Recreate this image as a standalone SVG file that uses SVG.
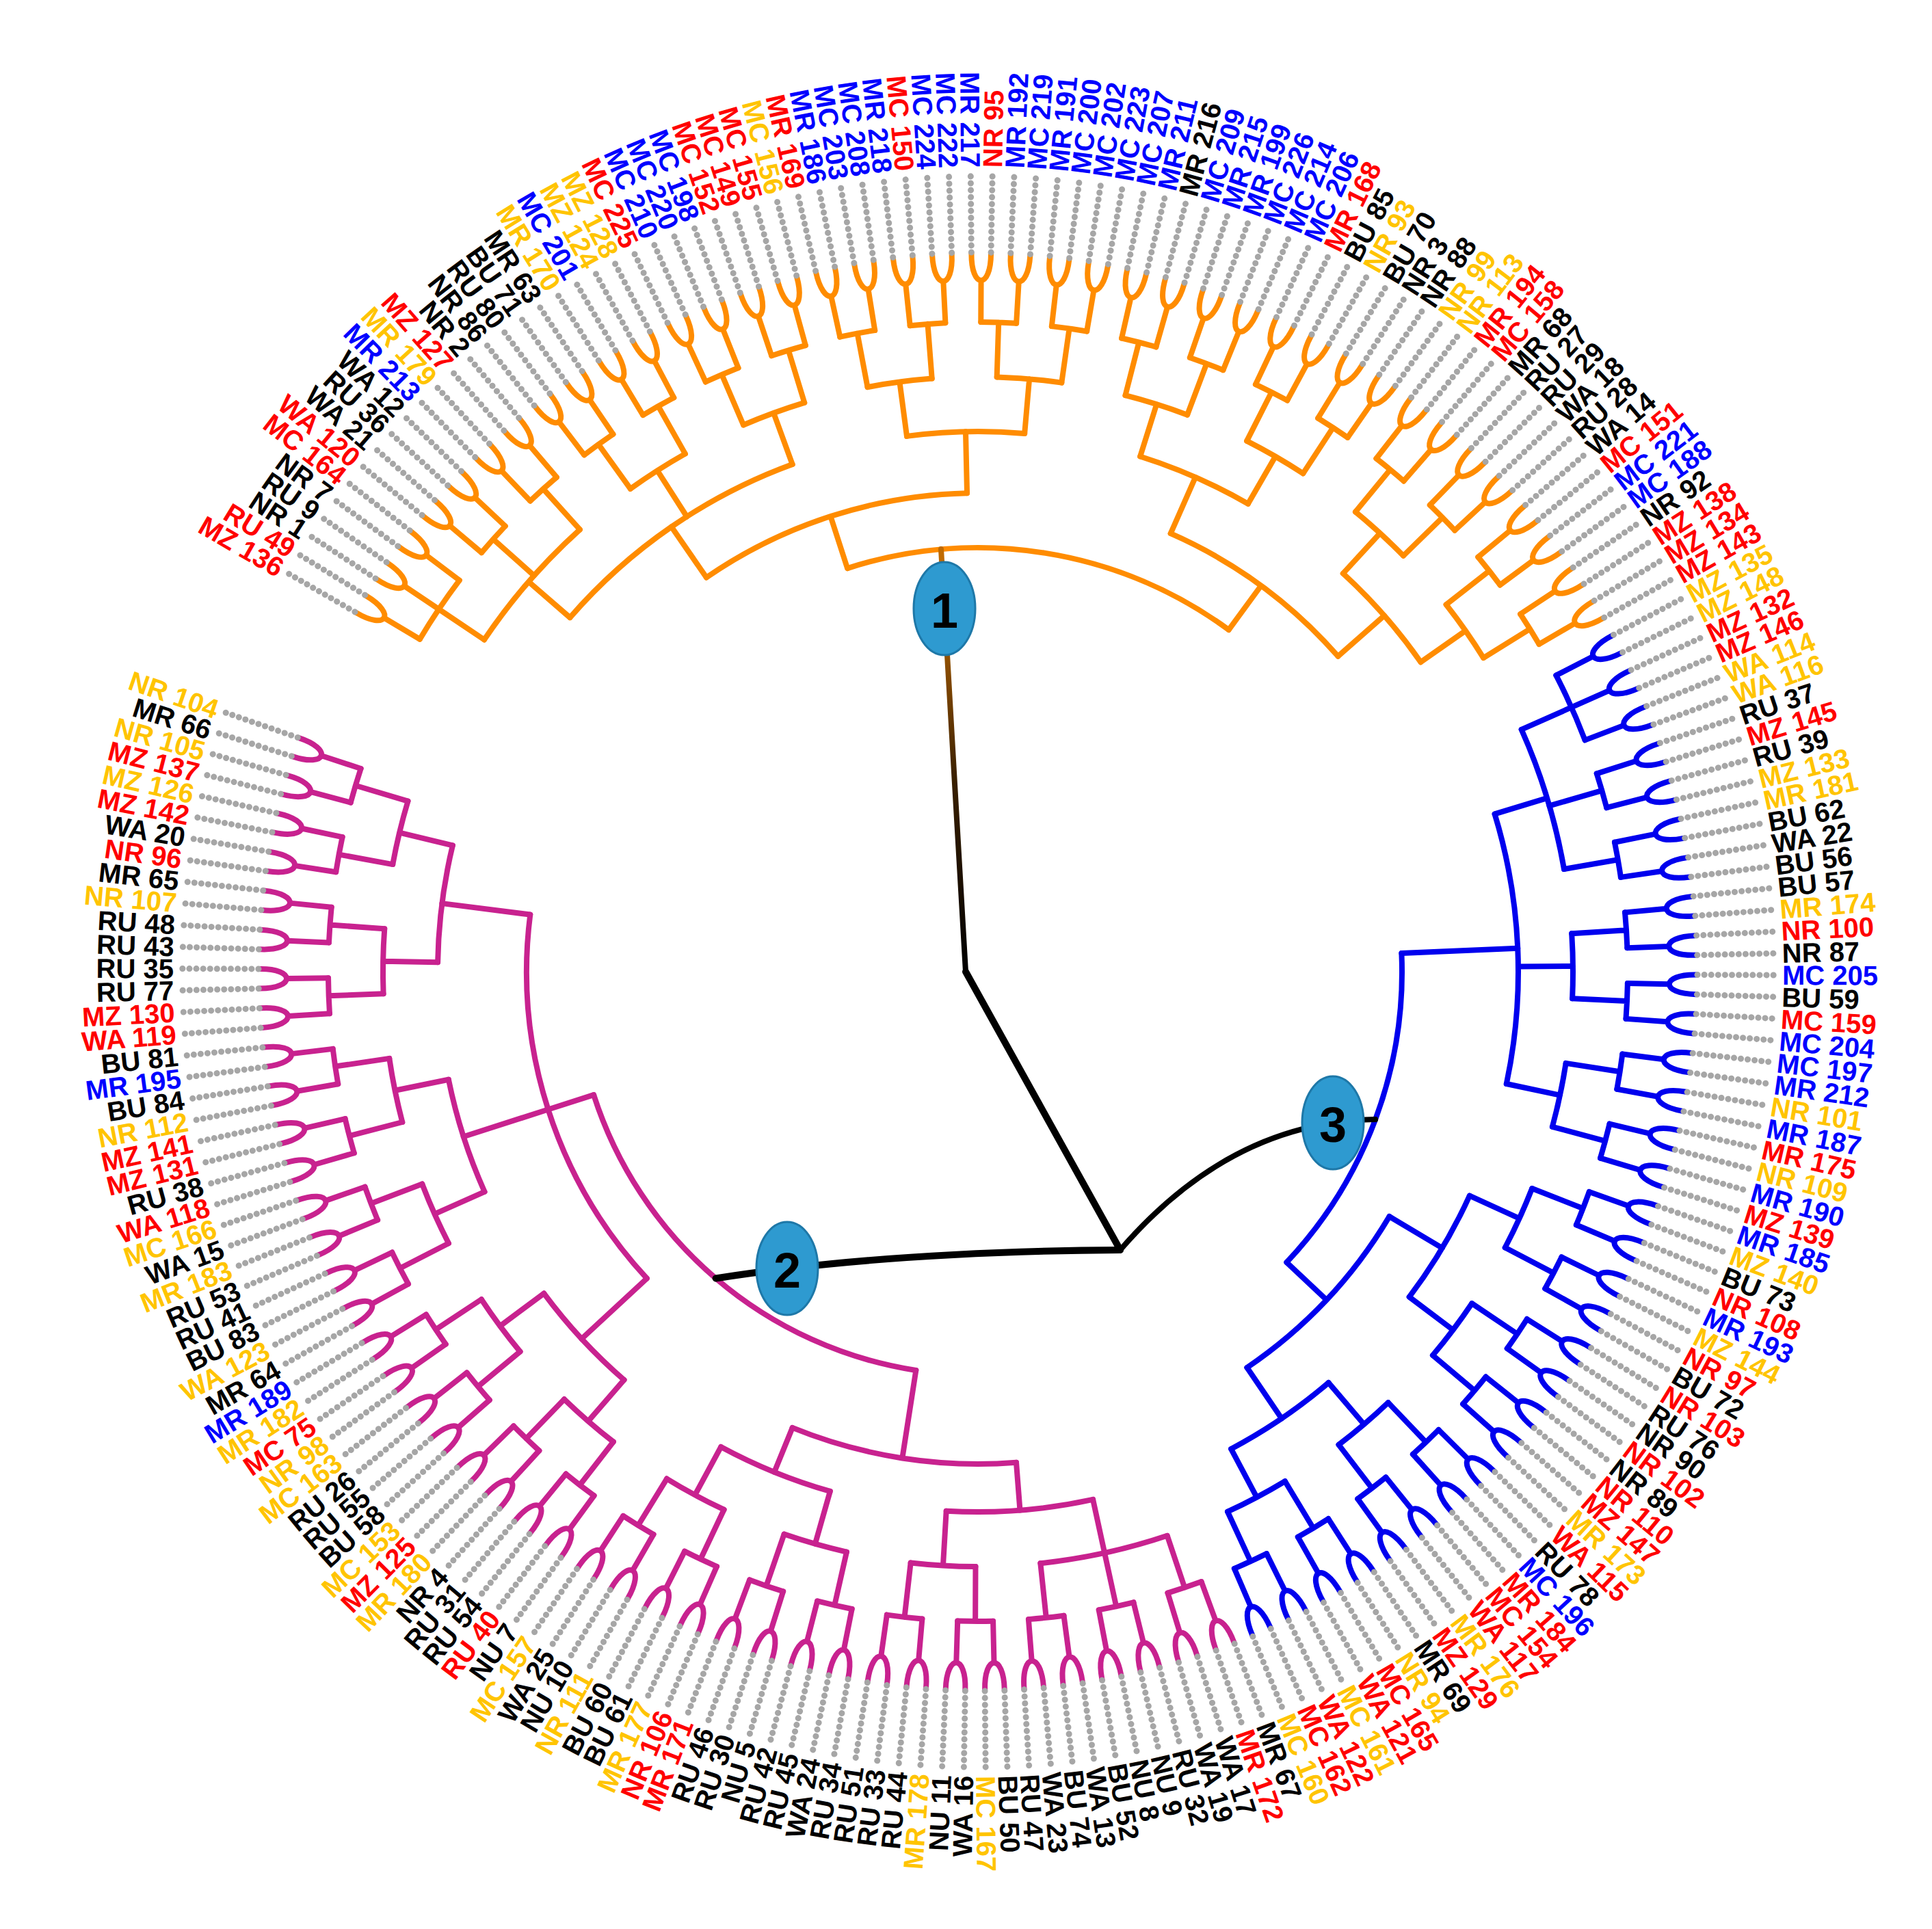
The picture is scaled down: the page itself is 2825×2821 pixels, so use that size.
<svg xmlns="http://www.w3.org/2000/svg" xmlns:xlink="http://www.w3.org/1999/xlink" width="2825" height="2821" viewBox="0 0 2825 2821">
<style>
text{font-family:"Liberation Sans",Arial,sans-serif;font-size:40px;font-weight:bold;dominant-baseline:central}
.l{text-anchor:end}
.y{fill:#FFC400}.r{fill:#FF0000}.b{fill:#0000FF}.k{fill:#000}
.sp{stroke:#a6a6a6;stroke-width:9;stroke-dasharray:0.1 10;stroke-linecap:round}
.br{fill:none;stroke-width:8;stroke-linecap:round}
.o{stroke:#FF8C00}.p{stroke:#C8228F}.u{stroke:#0000EE}
.blk{fill:none;stroke:#000;stroke-width:10;stroke-linecap:round}
.nd{fill:#2E9AD0;stroke:#1E78A8;stroke-width:3}
.nt{font-size:72px;font-weight:bold;text-anchor:middle;fill:#000}
</style>
<defs>
<line id="sp" class="sp" x1="2482" y1="1421" x2="2594" y2="1421"/>
<path id="ch" d="M2480,1406.7 C2428,1406.7 2428,1435.3 2480,1435.3 M2441,1421 L2380,1421"/>
<path id="qd" d="M2379.65,1395.05 A950,950 0 0 1 2379.65,1446.95 M2380,1421 L2300,1421"/>
<path id="qt" d="M2378.58,1369.13 A950,950 0 0 1 2378.58,1472.87 M2380,1421 L2300,1421"/>
<path id="pd" d="M2298.7,1373.5 A870,870 0 0 1 2298.7,1468.5 M2300,1421 L2220,1421"/>
<path id="pt" d="M2294.81,1326.14 A870,870 0 0 1 2294.81,1515.86 M2300,1421 L2220,1421"/>
<path id="pt2" d="M2293.44,1314.33 A870,870 0 0 1 2293.44,1527.67 M2300,1421 L2220,1421"/>
<path id="gd" d="M2215.29,1334.86 A790,790 0 0 1 2215.29,1507.14"/>
<path id="g5" d="M2212.65,1313.45 A790,790 0 0 1 2212.65,1528.55"/>
<path id="g3" d="M2194.92,1223.52 A790,790 0 0 1 2194.92,1618.48"/>
<line id="s1" x1="2090" y1="1421" x2="2220" y2="1421"/>
<line id="s2" x1="2150" y1="1421" x2="2220" y2="1421"/>
<line id="s3" x1="2130" y1="1421" x2="2220" y2="1421"/>
<line id="s4" x1="2050" y1="1421" x2="2220" y2="1421"/>
<path id="h1" d="M2027.99,1141.69 A660,660 0 0 1 2027.99,1700.31 M2020,1421 L2090,1421"/>
<path id="h2" d="M2130.68,1255.33 A720,720 0 0 1 2130.68,1586.67 M2020,1421 L2150,1421"/>
<path id="pr" d="M1932.03,1111.05 A590,590 0 0 1 1932.03,1730.95"/>
<path id="bh" d="M2113.35,1269.27 A700,700 0 0 1 2113.35,1572.73 M2050,1421 L2130,1421"/>
<path id="bro" d="M2001.21,1179.91 A620,620 0 0 1 2001.21,1662.09"/>
<path id="oh2" d="M2100.73,1220.71 A700,700 0 0 1 2100.73,1621.29 M2050,1421 L2130,1421"/>
<path id="oro" d="M1981.97,1138.63 A620,620 0 0 1 1981.97,1703.37"/>
<linearGradient id="gr" gradientUnits="userSpaceOnUse" x1="0" y1="1421" x2="0" y2="860"><stop offset="0" stop-color="#000"/><stop offset="0.5" stop-color="#3a2000"/><stop offset="1" stop-color="#C06A00"/></linearGradient>
</defs>
<rect width="2825" height="2821" fill="#fff"/>
<g id="connectors">
<g id="pink" class="br p">
<use href="#ch" transform="rotate(-161.7825 1430 1421)"/><use href="#ch" transform="rotate(-164.9125 1430 1421)"/><use href="#ch" transform="rotate(-168.0425 1430 1421)"/><use href="#ch" transform="rotate(-171.1725 1430 1421)"/><use href="#ch" transform="rotate(-174.3025 1430 1421)"/><use href="#ch" transform="rotate(-177.4325 1430 1421)"/><use href="#ch" transform="rotate(-180.5625 1430 1421)"/><use href="#ch" transform="rotate(-183.6925 1430 1421)"/><use href="#ch" transform="rotate(-186.8225 1430 1421)"/><use href="#ch" transform="rotate(-189.9525 1430 1421)"/><use href="#ch" transform="rotate(-193.0825 1430 1421)"/><use href="#ch" transform="rotate(-196.2125 1430 1421)"/><use href="#ch" transform="rotate(-199.3425 1430 1421)"/><use href="#ch" transform="rotate(-202.4725 1430 1421)"/><use href="#ch" transform="rotate(-205.6025 1430 1421)"/><use href="#ch" transform="rotate(-208.7325 1430 1421)"/><use href="#ch" transform="rotate(-211.8625 1430 1421)"/><use href="#ch" transform="rotate(-214.9925 1430 1421)"/><use href="#ch" transform="rotate(-218.1225 1430 1421)"/><use href="#ch" transform="rotate(-221.2525 1430 1421)"/><use href="#ch" transform="rotate(-224.3825 1430 1421)"/><use href="#ch" transform="rotate(-227.5125 1430 1421)"/><use href="#ch" transform="rotate(-230.6425 1430 1421)"/><use href="#ch" transform="rotate(-233.7725 1430 1421)"/><use href="#ch" transform="rotate(-236.9025 1430 1421)"/><use href="#ch" transform="rotate(-240.0325 1430 1421)"/><use href="#ch" transform="rotate(-243.1625 1430 1421)"/><use href="#ch" transform="rotate(-246.2925 1430 1421)"/><use href="#ch" transform="rotate(-249.4225 1430 1421)"/><use href="#ch" transform="rotate(-252.5525 1430 1421)"/><use href="#ch" transform="rotate(-255.6825 1430 1421)"/><use href="#ch" transform="rotate(-258.8125 1430 1421)"/><use href="#ch" transform="rotate(-261.9425 1430 1421)"/><use href="#ch" transform="rotate(-265.0725 1430 1421)"/><use href="#ch" transform="rotate(-268.2025 1430 1421)"/><use href="#ch" transform="rotate(-271.3325 1430 1421)"/><use href="#ch" transform="rotate(-274.4625 1430 1421)"/><use href="#ch" transform="rotate(-277.5925 1430 1421)"/><use href="#ch" transform="rotate(-280.7225 1430 1421)"/><use href="#ch" transform="rotate(-283.8525 1430 1421)"/><use href="#ch" transform="rotate(-286.9825 1430 1421)"/><use href="#ch" transform="rotate(-290.1125 1430 1421)"/>
<use href="#qd" transform="rotate(-163.3475 1430 1421)"/><use href="#qd" transform="rotate(-169.6075 1430 1421)"/><use href="#qd" transform="rotate(-175.8675 1430 1421)"/><use href="#qd" transform="rotate(-182.1275 1430 1421)"/><use href="#qd" transform="rotate(-188.3875 1430 1421)"/><use href="#qd" transform="rotate(-194.6475 1430 1421)"/><use href="#qd" transform="rotate(-200.9075 1430 1421)"/><use href="#qd" transform="rotate(-207.1675 1430 1421)"/><use href="#qd" transform="rotate(-213.4275 1430 1421)"/><use href="#qd" transform="rotate(-219.6875 1430 1421)"/><use href="#qd" transform="rotate(-225.9475 1430 1421)"/><use href="#qd" transform="rotate(-232.2075 1430 1421)"/><use href="#qd" transform="rotate(-238.4675 1430 1421)"/><use href="#qd" transform="rotate(-244.7275 1430 1421)"/><use href="#qd" transform="rotate(-250.9875 1430 1421)"/><use href="#qd" transform="rotate(-257.2475 1430 1421)"/><use href="#qd" transform="rotate(-263.5075 1430 1421)"/><use href="#qd" transform="rotate(-269.7675 1430 1421)"/><use href="#qd" transform="rotate(-276.0275 1430 1421)"/><use href="#qd" transform="rotate(-282.2875 1430 1421)"/><use href="#qd" transform="rotate(-288.5475 1430 1421)"/>
<use href="#pd" transform="rotate(-166.4775 1430 1421)"/><use href="#pd" transform="rotate(-178.9975 1430 1421)"/><use href="#pd" transform="rotate(-191.5175 1430 1421)"/><use href="#pd" transform="rotate(-204.0375 1430 1421)"/><use href="#pd" transform="rotate(-216.5575 1430 1421)"/><use href="#pd" transform="rotate(-229.0775 1430 1421)"/><use href="#pd" transform="rotate(-241.5975 1430 1421)"/><use href="#pd" transform="rotate(-254.1175 1430 1421)"/><use href="#pd" transform="rotate(-266.6375 1430 1421)"/><use href="#pt" transform="rotate(-282.2875 1430 1421)"/>
<use href="#gd" transform="rotate(-172.7375 1430 1421)"/><use href="#gd" transform="rotate(-197.7775 1430 1421)"/><use href="#gd" transform="rotate(-222.8175 1430 1421)"/><use href="#gd" transform="rotate(-247.8575 1430 1421)"/><use href="#g5" transform="rotate(-274.4625 1430 1421)"/>
<use href="#s1" transform="rotate(-172.7375 1430 1421)"/><use href="#s1" transform="rotate(-197.7775 1430 1421)"/><use href="#s1" transform="rotate(-222.8175 1430 1421)"/><use href="#s2" transform="rotate(-247.8575 1430 1421)"/><use href="#s2" transform="rotate(-274.4625 1430 1421)"/>
<use href="#h1" transform="rotate(-197.7775 1430 1421)"/><use href="#h2" transform="rotate(-261.16 1430 1421)"/><use href="#pr" transform="rotate(-229.47 1430 1421)"/>
</g>
<g id="blue" class="br u">
<use href="#ch" transform="rotate(-293.2425 1430 1421)"/><use href="#ch" transform="rotate(-296.3725 1430 1421)"/><use href="#ch" transform="rotate(-299.5025 1430 1421)"/><use href="#ch" transform="rotate(-302.6325 1430 1421)"/><use href="#ch" transform="rotate(-305.7625 1430 1421)"/><use href="#ch" transform="rotate(-308.8925 1430 1421)"/><use href="#ch" transform="rotate(-312.0225 1430 1421)"/><use href="#ch" transform="rotate(-315.1525 1430 1421)"/><use href="#ch" transform="rotate(-318.2825 1430 1421)"/><use href="#ch" transform="rotate(-321.4125 1430 1421)"/><use href="#ch" transform="rotate(-324.5425 1430 1421)"/><use href="#ch" transform="rotate(-327.6725 1430 1421)"/><use href="#ch" transform="rotate(-330.8025 1430 1421)"/><use href="#ch" transform="rotate(-333.9325 1430 1421)"/><use href="#ch" transform="rotate(-337.0625 1430 1421)"/><use href="#ch" transform="rotate(-340.1925 1430 1421)"/><use href="#ch" transform="rotate(-343.3225 1430 1421)"/><use href="#ch" transform="rotate(-346.4525 1430 1421)"/><use href="#ch" transform="rotate(-349.5825 1430 1421)"/><use href="#ch" transform="rotate(-352.7125 1430 1421)"/><use href="#ch" transform="rotate(-355.8425 1430 1421)"/><use href="#ch" transform="rotate(-358.9725 1430 1421)"/><use href="#ch" transform="rotate(-362.1025 1430 1421)"/><use href="#ch" transform="rotate(-365.2325 1430 1421)"/><use href="#ch" transform="rotate(-368.3625 1430 1421)"/><use href="#ch" transform="rotate(-371.4925 1430 1421)"/><use href="#ch" transform="rotate(-374.6225 1430 1421)"/><use href="#ch" transform="rotate(-377.7525 1430 1421)"/><use href="#ch" transform="rotate(-380.8825 1430 1421)"/><use href="#ch" transform="rotate(-384.0125 1430 1421)"/><use href="#ch" transform="rotate(-387.1425 1430 1421)"/>
<use href="#qd" transform="rotate(-294.8075 1430 1421)"/><use href="#qd" transform="rotate(-301.0675 1430 1421)"/><use href="#qd" transform="rotate(-307.3275 1430 1421)"/><use href="#qd" transform="rotate(-313.5875 1430 1421)"/><use href="#qd" transform="rotate(-319.8475 1430 1421)"/><use href="#qd" transform="rotate(-326.1075 1430 1421)"/><use href="#qd" transform="rotate(-332.3675 1430 1421)"/><use href="#qd" transform="rotate(-338.6275 1430 1421)"/><use href="#qd" transform="rotate(-344.8875 1430 1421)"/><use href="#qd" transform="rotate(-351.1475 1430 1421)"/><use href="#qd" transform="rotate(-357.4075 1430 1421)"/><use href="#qd" transform="rotate(-363.6675 1430 1421)"/><use href="#qd" transform="rotate(-369.9275 1430 1421)"/><use href="#qd" transform="rotate(-376.1875 1430 1421)"/><use href="#qt" transform="rotate(-384.0125 1430 1421)"/>
<use href="#pd" transform="rotate(-297.9375 1430 1421)"/><use href="#pd" transform="rotate(-310.4575 1430 1421)"/><use href="#pd" transform="rotate(-322.9775 1430 1421)"/><use href="#pd" transform="rotate(-335.4975 1430 1421)"/><use href="#pd" transform="rotate(-348.0175 1430 1421)"/><use href="#pd" transform="rotate(-360.5375 1430 1421)"/><use href="#pt2" transform="rotate(-376.97 1430 1421)"/>
<use href="#gd" transform="rotate(-304.1975 1430 1421)"/><use href="#gd" transform="rotate(-329.2375 1430 1421)"/><use href="#g3" transform="rotate(-362.49 1430 1421)"/>
<use href="#s3" transform="rotate(-304.1975 1430 1421)"/><use href="#s3" transform="rotate(-329.2375 1430 1421)"/><use href="#s4" transform="rotate(-362.49 1430 1421)"/>
<use href="#bh" transform="rotate(-316.7175 1430 1421)"/><use href="#bro" transform="rotate(-339.60375 1430 1421)"/>
</g>
<g id="orange" class="br o">
<use href="#ch" transform="rotate(-390.2725 1430 1421)"/><use href="#ch" transform="rotate(-393.4025 1430 1421)"/><use href="#ch" transform="rotate(-396.5325 1430 1421)"/><use href="#ch" transform="rotate(-399.6625 1430 1421)"/><use href="#ch" transform="rotate(-402.7925 1430 1421)"/><use href="#ch" transform="rotate(-405.9225 1430 1421)"/><use href="#ch" transform="rotate(-409.0525 1430 1421)"/><use href="#ch" transform="rotate(-412.1825 1430 1421)"/><use href="#ch" transform="rotate(-415.3125 1430 1421)"/><use href="#ch" transform="rotate(-418.4425 1430 1421)"/><use href="#ch" transform="rotate(-421.5725 1430 1421)"/><use href="#ch" transform="rotate(-424.7025 1430 1421)"/><use href="#ch" transform="rotate(-427.8325 1430 1421)"/><use href="#ch" transform="rotate(-430.9625 1430 1421)"/><use href="#ch" transform="rotate(-434.0925 1430 1421)"/><use href="#ch" transform="rotate(-437.2225 1430 1421)"/><use href="#ch" transform="rotate(-440.3525 1430 1421)"/><use href="#ch" transform="rotate(-443.4825 1430 1421)"/><use href="#ch" transform="rotate(-446.6125 1430 1421)"/><use href="#ch" transform="rotate(-449.7425 1430 1421)"/><use href="#ch" transform="rotate(-452.8725 1430 1421)"/><use href="#ch" transform="rotate(-456.0025 1430 1421)"/><use href="#ch" transform="rotate(-459.1325 1430 1421)"/><use href="#ch" transform="rotate(-462.2625 1430 1421)"/><use href="#ch" transform="rotate(-465.3925 1430 1421)"/><use href="#ch" transform="rotate(-468.5225 1430 1421)"/><use href="#ch" transform="rotate(-471.6525 1430 1421)"/><use href="#ch" transform="rotate(-474.7825 1430 1421)"/><use href="#ch" transform="rotate(-477.9125 1430 1421)"/><use href="#ch" transform="rotate(-481.0425 1430 1421)"/><use href="#ch" transform="rotate(-484.1725 1430 1421)"/><use href="#ch" transform="rotate(-487.3025 1430 1421)"/><use href="#ch" transform="rotate(-490.4325 1430 1421)"/><use href="#ch" transform="rotate(-493.5625 1430 1421)"/><use href="#ch" transform="rotate(-496.6925 1430 1421)"/><use href="#ch" transform="rotate(-499.8225 1430 1421)"/><use href="#ch" transform="rotate(-502.9525 1430 1421)"/><use href="#ch" transform="rotate(-506.0825 1430 1421)"/><use href="#ch" transform="rotate(-509.2125 1430 1421)"/>
<use href="#qd" transform="rotate(-391.8375 1430 1421)"/><use href="#qd" transform="rotate(-398.0975 1430 1421)"/><use href="#qd" transform="rotate(-404.3575 1430 1421)"/><use href="#qd" transform="rotate(-410.6175 1430 1421)"/><use href="#qd" transform="rotate(-416.8775 1430 1421)"/><use href="#qd" transform="rotate(-423.1375 1430 1421)"/><use href="#qd" transform="rotate(-429.3975 1430 1421)"/><use href="#qd" transform="rotate(-435.6575 1430 1421)"/><use href="#qd" transform="rotate(-441.9175 1430 1421)"/><use href="#qd" transform="rotate(-448.1775 1430 1421)"/><use href="#qd" transform="rotate(-454.4375 1430 1421)"/><use href="#qd" transform="rotate(-460.6975 1430 1421)"/><use href="#qd" transform="rotate(-466.9575 1430 1421)"/><use href="#qd" transform="rotate(-473.2175 1430 1421)"/><use href="#qd" transform="rotate(-479.4775 1430 1421)"/><use href="#qd" transform="rotate(-485.7375 1430 1421)"/><use href="#qd" transform="rotate(-491.9975 1430 1421)"/><use href="#qd" transform="rotate(-498.2575 1430 1421)"/><use href="#qt" transform="rotate(-506.0825 1430 1421)"/>
<use href="#pd" transform="rotate(-394.9675 1430 1421)"/><use href="#pd" transform="rotate(-407.4875 1430 1421)"/><use href="#pd" transform="rotate(-420.0075 1430 1421)"/><use href="#pd" transform="rotate(-432.5275 1430 1421)"/><use href="#pd" transform="rotate(-445.0475 1430 1421)"/><use href="#pd" transform="rotate(-457.5675 1430 1421)"/><use href="#pd" transform="rotate(-470.0875 1430 1421)"/><use href="#pd" transform="rotate(-482.6075 1430 1421)"/><use href="#pt2" transform="rotate(-499.04 1430 1421)"/>
<use href="#gd" transform="rotate(-401.2275 1430 1421)"/><use href="#gd" transform="rotate(-426.2675 1430 1421)"/><use href="#gd" transform="rotate(-451.3075 1430 1421)"/><use href="#g3" transform="rotate(-484.56 1430 1421)"/>
<use href="#s3" transform="rotate(-401.2275 1430 1421)"/><use href="#s3" transform="rotate(-426.2675 1430 1421)"/><use href="#s3" transform="rotate(-451.3075 1430 1421)"/><use href="#s3" transform="rotate(-484.56 1430 1421)"/>
<use href="#bh" transform="rotate(-413.7475 1430 1421)"/><use href="#oh2" transform="rotate(-467.93375 1430 1421)"/><use href="#oro" transform="rotate(-440.8406 1430 1421)"/>
</g>
<g id="trunk">
<path class="blk" d="M1638,1828 L1412,1421"/>
<path d="M1412,1421 L1376,803" fill="none" stroke="url(#gr)" stroke-width="8" stroke-linecap="round"/>
<path class="blk" d="M1638,1828 Q1300,1830 1046.6,1869.5"/>
<path class="blk" d="M1638,1828 Q1800,1640 2011.1,1637.1" style="stroke-width:8"/>
</g>
</g>
<g id="node1"><ellipse class="nd" cx="1381" cy="890" rx="45" ry="68"/><text class="nt" x="1381" y="893">1</text></g>
<g id="node2"><ellipse class="nd" cx="1151" cy="1855" rx="45" ry="68"/><text class="nt" x="1151" y="1858">2</text></g>
<g id="node3"><ellipse class="nd" cx="1949" cy="1642" rx="45" ry="68"/><text class="nt" x="1949" y="1645">3</text></g>
<g id="leaves">
<g id="L1" transform="rotate(-161 1430 1421)"><use href="#sp"/><text class="y l" x="2606" y="1421" transform="rotate(180 2606 1421)">NR 104</text></g>
<g id="L2" transform="rotate(-162.565 1430 1421)"><use href="#sp"/><text class="k l" x="2606" y="1421" transform="rotate(180 2606 1421)">MR 66</text></g>
<g id="L3" transform="rotate(-164.13 1430 1421)"><use href="#sp"/><text class="y l" x="2606" y="1421" transform="rotate(180 2606 1421)">NR 105</text></g>
<g id="L4" transform="rotate(-165.695 1430 1421)"><use href="#sp"/><text class="r l" x="2606" y="1421" transform="rotate(180 2606 1421)">MZ 137</text></g>
<g id="L5" transform="rotate(-167.26 1430 1421)"><use href="#sp"/><text class="y l" x="2606" y="1421" transform="rotate(180 2606 1421)">MZ 126</text></g>
<g id="L6" transform="rotate(-168.825 1430 1421)"><use href="#sp"/><text class="r l" x="2606" y="1421" transform="rotate(180 2606 1421)">MZ 142</text></g>
<g id="L7" transform="rotate(-170.39 1430 1421)"><use href="#sp"/><text class="k l" x="2606" y="1421" transform="rotate(180 2606 1421)">WA 20</text></g>
<g id="L8" transform="rotate(-171.955 1430 1421)"><use href="#sp"/><text class="r l" x="2606" y="1421" transform="rotate(180 2606 1421)">NR 96</text></g>
<g id="L9" transform="rotate(-173.52 1430 1421)"><use href="#sp"/><text class="k l" x="2606" y="1421" transform="rotate(180 2606 1421)">MR 65</text></g>
<g id="L10" transform="rotate(-175.085 1430 1421)"><use href="#sp"/><text class="y l" x="2606" y="1421" transform="rotate(180 2606 1421)">NR 107</text></g>
<g id="L11" transform="rotate(-176.65 1430 1421)"><use href="#sp"/><text class="k l" x="2606" y="1421" transform="rotate(180 2606 1421)">RU 48</text></g>
<g id="L12" transform="rotate(-178.215 1430 1421)"><use href="#sp"/><text class="k l" x="2606" y="1421" transform="rotate(180 2606 1421)">RU 43</text></g>
<g id="L13" transform="rotate(-179.78 1430 1421)"><use href="#sp"/><text class="k l" x="2606" y="1421" transform="rotate(180 2606 1421)">RU 35</text></g>
<g id="L14" transform="rotate(-181.345 1430 1421)"><use href="#sp"/><text class="k l" x="2606" y="1421" transform="rotate(180 2606 1421)">RU 77</text></g>
<g id="L15" transform="rotate(-182.91 1430 1421)"><use href="#sp"/><text class="r l" x="2606" y="1421" transform="rotate(180 2606 1421)">MZ 130</text></g>
<g id="L16" transform="rotate(-184.475 1430 1421)"><use href="#sp"/><text class="r l" x="2606" y="1421" transform="rotate(180 2606 1421)">WA 119</text></g>
<g id="L17" transform="rotate(-186.04 1430 1421)"><use href="#sp"/><text class="k l" x="2606" y="1421" transform="rotate(180 2606 1421)">BU 81</text></g>
<g id="L18" transform="rotate(-187.605 1430 1421)"><use href="#sp"/><text class="b l" x="2606" y="1421" transform="rotate(180 2606 1421)">MR 195</text></g>
<g id="L19" transform="rotate(-189.17 1430 1421)"><use href="#sp"/><text class="k l" x="2606" y="1421" transform="rotate(180 2606 1421)">BU 84</text></g>
<g id="L20" transform="rotate(-190.735 1430 1421)"><use href="#sp"/><text class="y l" x="2606" y="1421" transform="rotate(180 2606 1421)">NR 112</text></g>
<g id="L21" transform="rotate(-192.3 1430 1421)"><use href="#sp"/><text class="r l" x="2606" y="1421" transform="rotate(180 2606 1421)">MZ 141</text></g>
<g id="L22" transform="rotate(-193.865 1430 1421)"><use href="#sp"/><text class="r l" x="2606" y="1421" transform="rotate(180 2606 1421)">MZ 131</text></g>
<g id="L23" transform="rotate(-195.43 1430 1421)"><use href="#sp"/><text class="k l" x="2606" y="1421" transform="rotate(180 2606 1421)">RU 38</text></g>
<g id="L24" transform="rotate(-196.995 1430 1421)"><use href="#sp"/><text class="r l" x="2606" y="1421" transform="rotate(180 2606 1421)">WA 118</text></g>
<g id="L25" transform="rotate(-198.56 1430 1421)"><use href="#sp"/><text class="y l" x="2606" y="1421" transform="rotate(180 2606 1421)">MC 166</text></g>
<g id="L26" transform="rotate(-200.125 1430 1421)"><use href="#sp"/><text class="k l" x="2606" y="1421" transform="rotate(180 2606 1421)">WA 15</text></g>
<g id="L27" transform="rotate(-201.69 1430 1421)"><use href="#sp"/><text class="y l" x="2606" y="1421" transform="rotate(180 2606 1421)">MR 183</text></g>
<g id="L28" transform="rotate(-203.255 1430 1421)"><use href="#sp"/><text class="k l" x="2606" y="1421" transform="rotate(180 2606 1421)">RU 53</text></g>
<g id="L29" transform="rotate(-204.82 1430 1421)"><use href="#sp"/><text class="k l" x="2606" y="1421" transform="rotate(180 2606 1421)">RU 41</text></g>
<g id="L30" transform="rotate(-206.385 1430 1421)"><use href="#sp"/><text class="k l" x="2606" y="1421" transform="rotate(180 2606 1421)">BU 83</text></g>
<g id="L31" transform="rotate(-207.95 1430 1421)"><use href="#sp"/><text class="y l" x="2606" y="1421" transform="rotate(180 2606 1421)">WA 123</text></g>
<g id="L32" transform="rotate(-209.515 1430 1421)"><use href="#sp"/><text class="k l" x="2606" y="1421" transform="rotate(180 2606 1421)">MR 64</text></g>
<g id="L33" transform="rotate(-211.08 1430 1421)"><use href="#sp"/><text class="b l" x="2606" y="1421" transform="rotate(180 2606 1421)">MR 189</text></g>
<g id="L34" transform="rotate(-212.645 1430 1421)"><use href="#sp"/><text class="y l" x="2606" y="1421" transform="rotate(180 2606 1421)">MR 182</text></g>
<g id="L35" transform="rotate(-214.21 1430 1421)"><use href="#sp"/><text class="r l" x="2606" y="1421" transform="rotate(180 2606 1421)">MC 75</text></g>
<g id="L36" transform="rotate(-215.775 1430 1421)"><use href="#sp"/><text class="y l" x="2606" y="1421" transform="rotate(180 2606 1421)">NR 98</text></g>
<g id="L37" transform="rotate(-217.34 1430 1421)"><use href="#sp"/><text class="y l" x="2606" y="1421" transform="rotate(180 2606 1421)">MC 163</text></g>
<g id="L38" transform="rotate(-218.905 1430 1421)"><use href="#sp"/><text class="k l" x="2606" y="1421" transform="rotate(180 2606 1421)">RU 26</text></g>
<g id="L39" transform="rotate(-220.47 1430 1421)"><use href="#sp"/><text class="k l" x="2606" y="1421" transform="rotate(180 2606 1421)">RU 55</text></g>
<g id="L40" transform="rotate(-222.035 1430 1421)"><use href="#sp"/><text class="k l" x="2606" y="1421" transform="rotate(180 2606 1421)">BU 58</text></g>
<g id="L41" transform="rotate(-223.6 1430 1421)"><use href="#sp"/><text class="y l" x="2606" y="1421" transform="rotate(180 2606 1421)">MC 153</text></g>
<g id="L42" transform="rotate(-225.165 1430 1421)"><use href="#sp"/><text class="r l" x="2606" y="1421" transform="rotate(180 2606 1421)">MZ 125</text></g>
<g id="L43" transform="rotate(-226.73 1430 1421)"><use href="#sp"/><text class="y l" x="2606" y="1421" transform="rotate(180 2606 1421)">MR 180</text></g>
<g id="L44" transform="rotate(-228.295 1430 1421)"><use href="#sp"/><text class="k l" x="2606" y="1421" transform="rotate(180 2606 1421)">NR 4</text></g>
<g id="L45" transform="rotate(-229.86 1430 1421)"><use href="#sp"/><text class="k l" x="2606" y="1421" transform="rotate(180 2606 1421)">RU 31</text></g>
<g id="L46" transform="rotate(-231.425 1430 1421)"><use href="#sp"/><text class="k l" x="2606" y="1421" transform="rotate(180 2606 1421)">RU 54</text></g>
<g id="L47" transform="rotate(-232.99 1430 1421)"><use href="#sp"/><text class="r l" x="2606" y="1421" transform="rotate(180 2606 1421)">RU 40</text></g>
<g id="L48" transform="rotate(-234.555 1430 1421)"><use href="#sp"/><text class="k l" x="2606" y="1421" transform="rotate(180 2606 1421)">NU 7</text></g>
<g id="L49" transform="rotate(-236.12 1430 1421)"><use href="#sp"/><text class="y l" x="2606" y="1421" transform="rotate(180 2606 1421)">MC 157</text></g>
<g id="L50" transform="rotate(-237.685 1430 1421)"><use href="#sp"/><text class="k l" x="2606" y="1421" transform="rotate(180 2606 1421)">WA 25</text></g>
<g id="L51" transform="rotate(-239.25 1430 1421)"><use href="#sp"/><text class="k l" x="2606" y="1421" transform="rotate(180 2606 1421)">NU 10</text></g>
<g id="L52" transform="rotate(-240.815 1430 1421)"><use href="#sp"/><text class="y l" x="2606" y="1421" transform="rotate(180 2606 1421)">NR 111</text></g>
<g id="L53" transform="rotate(-242.38 1430 1421)"><use href="#sp"/><text class="k l" x="2606" y="1421" transform="rotate(180 2606 1421)">BU 60</text></g>
<g id="L54" transform="rotate(-243.945 1430 1421)"><use href="#sp"/><text class="k l" x="2606" y="1421" transform="rotate(180 2606 1421)">BU 61</text></g>
<g id="L55" transform="rotate(-245.51 1430 1421)"><use href="#sp"/><text class="y l" x="2606" y="1421" transform="rotate(180 2606 1421)">MR 177</text></g>
<g id="L56" transform="rotate(-247.075 1430 1421)"><use href="#sp"/><text class="r l" x="2606" y="1421" transform="rotate(180 2606 1421)">NR 106</text></g>
<g id="L57" transform="rotate(-248.64 1430 1421)"><use href="#sp"/><text class="r l" x="2606" y="1421" transform="rotate(180 2606 1421)">MR 171</text></g>
<g id="L58" transform="rotate(-250.205 1430 1421)"><use href="#sp"/><text class="k l" x="2606" y="1421" transform="rotate(180 2606 1421)">RU 46</text></g>
<g id="L59" transform="rotate(-251.77 1430 1421)"><use href="#sp"/><text class="k l" x="2606" y="1421" transform="rotate(180 2606 1421)">RU 30</text></g>
<g id="L60" transform="rotate(-253.335 1430 1421)"><use href="#sp"/><text class="k l" x="2606" y="1421" transform="rotate(180 2606 1421)">NU 5</text></g>
<g id="L61" transform="rotate(-254.9 1430 1421)"><use href="#sp"/><text class="k l" x="2606" y="1421" transform="rotate(180 2606 1421)">RU 42</text></g>
<g id="L62" transform="rotate(-256.465 1430 1421)"><use href="#sp"/><text class="k l" x="2606" y="1421" transform="rotate(180 2606 1421)">RU 45</text></g>
<g id="L63" transform="rotate(-258.03 1430 1421)"><use href="#sp"/><text class="k l" x="2606" y="1421" transform="rotate(180 2606 1421)">WA 24</text></g>
<g id="L64" transform="rotate(-259.595 1430 1421)"><use href="#sp"/><text class="k l" x="2606" y="1421" transform="rotate(180 2606 1421)">RU 34</text></g>
<g id="L65" transform="rotate(-261.16 1430 1421)"><use href="#sp"/><text class="k l" x="2606" y="1421" transform="rotate(180 2606 1421)">RU 51</text></g>
<g id="L66" transform="rotate(-262.725 1430 1421)"><use href="#sp"/><text class="k l" x="2606" y="1421" transform="rotate(180 2606 1421)">RU 33</text></g>
<g id="L67" transform="rotate(-264.29 1430 1421)"><use href="#sp"/><text class="k l" x="2606" y="1421" transform="rotate(180 2606 1421)">RU 44</text></g>
<g id="L68" transform="rotate(-265.855 1430 1421)"><use href="#sp"/><text class="y l" x="2606" y="1421" transform="rotate(180 2606 1421)">MR 178</text></g>
<g id="L69" transform="rotate(-267.42 1430 1421)"><use href="#sp"/><text class="k l" x="2606" y="1421" transform="rotate(180 2606 1421)">NU 11</text></g>
<g id="L70" transform="rotate(-268.985 1430 1421)"><use href="#sp"/><text class="k l" x="2606" y="1421" transform="rotate(180 2606 1421)">WA 16</text></g>
<g id="L71" transform="rotate(-270.55 1430 1421)"><use href="#sp"/><text class="y" x="2606" y="1421">MC 167</text></g>
<g id="L72" transform="rotate(-272.115 1430 1421)"><use href="#sp"/><text class="k" x="2606" y="1421">BU 50</text></g>
<g id="L73" transform="rotate(-273.68 1430 1421)"><use href="#sp"/><text class="k" x="2606" y="1421">RU 47</text></g>
<g id="L74" transform="rotate(-275.245 1430 1421)"><use href="#sp"/><text class="k" x="2606" y="1421">WA 23</text></g>
<g id="L75" transform="rotate(-276.81 1430 1421)"><use href="#sp"/><text class="k" x="2606" y="1421">BU 74</text></g>
<g id="L76" transform="rotate(-278.375 1430 1421)"><use href="#sp"/><text class="k" x="2606" y="1421">WA 13</text></g>
<g id="L77" transform="rotate(-279.94 1430 1421)"><use href="#sp"/><text class="k" x="2606" y="1421">BU 52</text></g>
<g id="L78" transform="rotate(-281.505 1430 1421)"><use href="#sp"/><text class="k" x="2606" y="1421">NU 8</text></g>
<g id="L79" transform="rotate(-283.07 1430 1421)"><use href="#sp"/><text class="k" x="2606" y="1421">NU 9</text></g>
<g id="L80" transform="rotate(-284.635 1430 1421)"><use href="#sp"/><text class="k" x="2606" y="1421">RU 32</text></g>
<g id="L81" transform="rotate(-286.2 1430 1421)"><use href="#sp"/><text class="k" x="2606" y="1421">WA 19</text></g>
<g id="L82" transform="rotate(-287.765 1430 1421)"><use href="#sp"/><text class="k" x="2606" y="1421">WA 17</text></g>
<g id="L83" transform="rotate(-289.33 1430 1421)"><use href="#sp"/><text class="r" x="2606" y="1421">MR 172</text></g>
<g id="L84" transform="rotate(-290.895 1430 1421)"><use href="#sp"/><text class="k" x="2606" y="1421">MR 67</text></g>
<g id="L85" transform="rotate(-292.46 1430 1421)"><use href="#sp"/><text class="y" x="2606" y="1421">MC 160</text></g>
<g id="L86" transform="rotate(-294.025 1430 1421)"><use href="#sp"/><text class="r" x="2606" y="1421">MC 162</text></g>
<g id="L87" transform="rotate(-295.59 1430 1421)"><use href="#sp"/><text class="r" x="2606" y="1421">WA 122</text></g>
<g id="L88" transform="rotate(-297.155 1430 1421)"><use href="#sp"/><text class="y" x="2606" y="1421">MC 161</text></g>
<g id="L89" transform="rotate(-298.72 1430 1421)"><use href="#sp"/><text class="r" x="2606" y="1421">WA 121</text></g>
<g id="L90" transform="rotate(-300.285 1430 1421)"><use href="#sp"/><text class="r" x="2606" y="1421">MC 165</text></g>
<g id="L91" transform="rotate(-301.85 1430 1421)"><use href="#sp"/><text class="y" x="2606" y="1421">NR 94</text></g>
<g id="L92" transform="rotate(-303.415 1430 1421)"><use href="#sp"/><text class="k" x="2606" y="1421">MR 69</text></g>
<g id="L93" transform="rotate(-304.98 1430 1421)"><use href="#sp"/><text class="r" x="2606" y="1421">MZ 129</text></g>
<g id="L94" transform="rotate(-306.545 1430 1421)"><use href="#sp"/><text class="y" x="2606" y="1421">MR 176</text></g>
<g id="L95" transform="rotate(-308.11 1430 1421)"><use href="#sp"/><text class="r" x="2606" y="1421">WA 117</text></g>
<g id="L96" transform="rotate(-309.675 1430 1421)"><use href="#sp"/><text class="r" x="2606" y="1421">MC 154</text></g>
<g id="L97" transform="rotate(-311.24 1430 1421)"><use href="#sp"/><text class="r" x="2606" y="1421">MR 184</text></g>
<g id="L98" transform="rotate(-312.805 1430 1421)"><use href="#sp"/><text class="b" x="2606" y="1421">MC 196</text></g>
<g id="L99" transform="rotate(-314.37 1430 1421)"><use href="#sp"/><text class="k" x="2606" y="1421">RU 78</text></g>
<g id="L100" transform="rotate(-315.935 1430 1421)"><use href="#sp"/><text class="r" x="2606" y="1421">WA 115</text></g>
<g id="L101" transform="rotate(-317.5 1430 1421)"><use href="#sp"/><text class="y" x="2606" y="1421">MR 173</text></g>
<g id="L102" transform="rotate(-319.065 1430 1421)"><use href="#sp"/><text class="r" x="2606" y="1421">MZ 147</text></g>
<g id="L103" transform="rotate(-320.63 1430 1421)"><use href="#sp"/><text class="r" x="2606" y="1421">NR 110</text></g>
<g id="L104" transform="rotate(-322.195 1430 1421)"><use href="#sp"/><text class="k" x="2606" y="1421">NR 89</text></g>
<g id="L105" transform="rotate(-323.76 1430 1421)"><use href="#sp"/><text class="r" x="2606" y="1421">NR 102</text></g>
<g id="L106" transform="rotate(-325.325 1430 1421)"><use href="#sp"/><text class="k" x="2606" y="1421">NR 90</text></g>
<g id="L107" transform="rotate(-326.89 1430 1421)"><use href="#sp"/><text class="k" x="2606" y="1421">RU 76</text></g>
<g id="L108" transform="rotate(-328.455 1430 1421)"><use href="#sp"/><text class="r" x="2606" y="1421">NR 103</text></g>
<g id="L109" transform="rotate(-330.02 1430 1421)"><use href="#sp"/><text class="k" x="2606" y="1421">BU 72</text></g>
<g id="L110" transform="rotate(-331.585 1430 1421)"><use href="#sp"/><text class="r" x="2606" y="1421">NR 97</text></g>
<g id="L111" transform="rotate(-333.15 1430 1421)"><use href="#sp"/><text class="y" x="2606" y="1421">MZ 144</text></g>
<g id="L112" transform="rotate(-334.715 1430 1421)"><use href="#sp"/><text class="b" x="2606" y="1421">MR 193</text></g>
<g id="L113" transform="rotate(-336.28 1430 1421)"><use href="#sp"/><text class="r" x="2606" y="1421">NR 108</text></g>
<g id="L114" transform="rotate(-337.845 1430 1421)"><use href="#sp"/><text class="k" x="2606" y="1421">BU 73</text></g>
<g id="L115" transform="rotate(-339.41 1430 1421)"><use href="#sp"/><text class="y" x="2606" y="1421">MZ 140</text></g>
<g id="L116" transform="rotate(-340.975 1430 1421)"><use href="#sp"/><text class="b" x="2606" y="1421">MR 185</text></g>
<g id="L117" transform="rotate(-342.54 1430 1421)"><use href="#sp"/><text class="r" x="2606" y="1421">MZ 139</text></g>
<g id="L118" transform="rotate(-344.105 1430 1421)"><use href="#sp"/><text class="b" x="2606" y="1421">MR 190</text></g>
<g id="L119" transform="rotate(-345.67 1430 1421)"><use href="#sp"/><text class="y" x="2606" y="1421">NR 109</text></g>
<g id="L120" transform="rotate(-347.235 1430 1421)"><use href="#sp"/><text class="r" x="2606" y="1421">MR 175</text></g>
<g id="L121" transform="rotate(-348.8 1430 1421)"><use href="#sp"/><text class="b" x="2606" y="1421">MR 187</text></g>
<g id="L122" transform="rotate(-350.365 1430 1421)"><use href="#sp"/><text class="y" x="2606" y="1421">NR 101</text></g>
<g id="L123" transform="rotate(-351.93 1430 1421)"><use href="#sp"/><text class="b" x="2606" y="1421">MR 212</text></g>
<g id="L124" transform="rotate(-353.495 1430 1421)"><use href="#sp"/><text class="b" x="2606" y="1421">MC 197</text></g>
<g id="L125" transform="rotate(-355.06 1430 1421)"><use href="#sp"/><text class="b" x="2606" y="1421">MC 204</text></g>
<g id="L126" transform="rotate(-356.625 1430 1421)"><use href="#sp"/><text class="r" x="2606" y="1421">MC 159</text></g>
<g id="L127" transform="rotate(-358.19 1430 1421)"><use href="#sp"/><text class="k" x="2606" y="1421">BU 59</text></g>
<g id="L128" transform="rotate(-359.755 1430 1421)"><use href="#sp"/><text class="b" x="2606" y="1421">MC 205</text></g>
<g id="L129" transform="rotate(-361.32 1430 1421)"><use href="#sp"/><text class="k" x="2606" y="1421">NR 87</text></g>
<g id="L130" transform="rotate(-362.885 1430 1421)"><use href="#sp"/><text class="r" x="2606" y="1421">NR 100</text></g>
<g id="L131" transform="rotate(-364.45 1430 1421)"><use href="#sp"/><text class="y" x="2606" y="1421">MR 174</text></g>
<g id="L132" transform="rotate(-366.015 1430 1421)"><use href="#sp"/><text class="k" x="2606" y="1421">BU 57</text></g>
<g id="L133" transform="rotate(-367.58 1430 1421)"><use href="#sp"/><text class="k" x="2606" y="1421">BU 56</text></g>
<g id="L134" transform="rotate(-369.145 1430 1421)"><use href="#sp"/><text class="k" x="2606" y="1421">WA 22</text></g>
<g id="L135" transform="rotate(-370.71 1430 1421)"><use href="#sp"/><text class="k" x="2606" y="1421">BU 62</text></g>
<g id="L136" transform="rotate(-372.275 1430 1421)"><use href="#sp"/><text class="y" x="2606" y="1421">MR 181</text></g>
<g id="L137" transform="rotate(-373.84 1430 1421)"><use href="#sp"/><text class="y" x="2606" y="1421">MZ 133</text></g>
<g id="L138" transform="rotate(-375.405 1430 1421)"><use href="#sp"/><text class="k" x="2606" y="1421">RU 39</text></g>
<g id="L139" transform="rotate(-376.97 1430 1421)"><use href="#sp"/><text class="r" x="2606" y="1421">MZ 145</text></g>
<g id="L140" transform="rotate(-378.535 1430 1421)"><use href="#sp"/><text class="k" x="2606" y="1421">RU 37</text></g>
<g id="L141" transform="rotate(-380.1 1430 1421)"><use href="#sp"/><text class="y" x="2606" y="1421">WA 116</text></g>
<g id="L142" transform="rotate(-381.665 1430 1421)"><use href="#sp"/><text class="y" x="2606" y="1421">WA 114</text></g>
<g id="L143" transform="rotate(-383.23 1430 1421)"><use href="#sp"/><text class="r" x="2606" y="1421">MZ 146</text></g>
<g id="L144" transform="rotate(-384.795 1430 1421)"><use href="#sp"/><text class="r" x="2606" y="1421">MZ 132</text></g>
<g id="L145" transform="rotate(-386.36 1430 1421)"><use href="#sp"/><text class="y" x="2606" y="1421">MZ 148</text></g>
<g id="L146" transform="rotate(-387.925 1430 1421)"><use href="#sp"/><text class="y" x="2606" y="1421">MZ 135</text></g>
<g id="L147" transform="rotate(-389.49 1430 1421)"><use href="#sp"/><text class="r" x="2606" y="1421">MZ 143</text></g>
<g id="L148" transform="rotate(-391.055 1430 1421)"><use href="#sp"/><text class="r" x="2606" y="1421">MZ 134</text></g>
<g id="L149" transform="rotate(-392.62 1430 1421)"><use href="#sp"/><text class="r" x="2606" y="1421">MZ 138</text></g>
<g id="L150" transform="rotate(-394.185 1430 1421)"><use href="#sp"/><text class="k" x="2606" y="1421">NR 92</text></g>
<g id="L151" transform="rotate(-395.75 1430 1421)"><use href="#sp"/><text class="b" x="2606" y="1421">MC 188</text></g>
<g id="L152" transform="rotate(-397.315 1430 1421)"><use href="#sp"/><text class="b" x="2606" y="1421">MC 221</text></g>
<g id="L153" transform="rotate(-398.88 1430 1421)"><use href="#sp"/><text class="r" x="2606" y="1421">MC 151</text></g>
<g id="L154" transform="rotate(-400.445 1430 1421)"><use href="#sp"/><text class="k" x="2606" y="1421">WA 14</text></g>
<g id="L155" transform="rotate(-402.01 1430 1421)"><use href="#sp"/><text class="k" x="2606" y="1421">RU 28</text></g>
<g id="L156" transform="rotate(-403.575 1430 1421)"><use href="#sp"/><text class="k" x="2606" y="1421">WA 18</text></g>
<g id="L157" transform="rotate(-405.14 1430 1421)"><use href="#sp"/><text class="k" x="2606" y="1421">RU 29</text></g>
<g id="L158" transform="rotate(-406.705 1430 1421)"><use href="#sp"/><text class="k" x="2606" y="1421">RU 27</text></g>
<g id="L159" transform="rotate(-408.27 1430 1421)"><use href="#sp"/><text class="k" x="2606" y="1421">MR 68</text></g>
<g id="L160" transform="rotate(-409.835 1430 1421)"><use href="#sp"/><text class="r" x="2606" y="1421">MC 158</text></g>
<g id="L161" transform="rotate(-411.4 1430 1421)"><use href="#sp"/><text class="r" x="2606" y="1421">MR 194</text></g>
<g id="L162" transform="rotate(-412.965 1430 1421)"><use href="#sp"/><text class="y" x="2606" y="1421">NR 113</text></g>
<g id="L163" transform="rotate(-414.53 1430 1421)"><use href="#sp"/><text class="y" x="2606" y="1421">NR 99</text></g>
<g id="L164" transform="rotate(-416.095 1430 1421)"><use href="#sp"/><text class="k" x="2606" y="1421">NR 88</text></g>
<g id="L165" transform="rotate(-417.66 1430 1421)"><use href="#sp"/><text class="k" x="2606" y="1421">NR 3</text></g>
<g id="L166" transform="rotate(-419.225 1430 1421)"><use href="#sp"/><text class="k" x="2606" y="1421">BU 70</text></g>
<g id="L167" transform="rotate(-420.79 1430 1421)"><use href="#sp"/><text class="y" x="2606" y="1421">NR 93</text></g>
<g id="L168" transform="rotate(-422.355 1430 1421)"><use href="#sp"/><text class="k" x="2606" y="1421">BU 85</text></g>
<g id="L169" transform="rotate(-423.92 1430 1421)"><use href="#sp"/><text class="r" x="2606" y="1421">MR 168</text></g>
<g id="L170" transform="rotate(-425.485 1430 1421)"><use href="#sp"/><text class="b" x="2606" y="1421">MC 206</text></g>
<g id="L171" transform="rotate(-427.05 1430 1421)"><use href="#sp"/><text class="b" x="2606" y="1421">MC 214</text></g>
<g id="L172" transform="rotate(-428.615 1430 1421)"><use href="#sp"/><text class="b" x="2606" y="1421">MC 226</text></g>
<g id="L173" transform="rotate(-430.18 1430 1421)"><use href="#sp"/><text class="b" x="2606" y="1421">MR 199</text></g>
<g id="L174" transform="rotate(-431.745 1430 1421)"><use href="#sp"/><text class="b" x="2606" y="1421">MR 215</text></g>
<g id="L175" transform="rotate(-433.31 1430 1421)"><use href="#sp"/><text class="b" x="2606" y="1421">MC 209</text></g>
<g id="L176" transform="rotate(-434.875 1430 1421)"><use href="#sp"/><text class="k" x="2606" y="1421">MR 216</text></g>
<g id="L177" transform="rotate(-436.44 1430 1421)"><use href="#sp"/><text class="b" x="2606" y="1421">MR 211</text></g>
<g id="L178" transform="rotate(-438.005 1430 1421)"><use href="#sp"/><text class="b" x="2606" y="1421">MC 207</text></g>
<g id="L179" transform="rotate(-439.57 1430 1421)"><use href="#sp"/><text class="b" x="2606" y="1421">MC 223</text></g>
<g id="L180" transform="rotate(-441.135 1430 1421)"><use href="#sp"/><text class="b" x="2606" y="1421">MC 202</text></g>
<g id="L181" transform="rotate(-442.7 1430 1421)"><use href="#sp"/><text class="b" x="2606" y="1421">MC 200</text></g>
<g id="L182" transform="rotate(-444.265 1430 1421)"><use href="#sp"/><text class="b" x="2606" y="1421">MR 191</text></g>
<g id="L183" transform="rotate(-445.83 1430 1421)"><use href="#sp"/><text class="b" x="2606" y="1421">MC 219</text></g>
<g id="L184" transform="rotate(-447.395 1430 1421)"><use href="#sp"/><text class="b" x="2606" y="1421">MR 192</text></g>
<g id="L185" transform="rotate(-448.96 1430 1421)"><use href="#sp"/><text class="r" x="2606" y="1421">NR 95</text></g>
<g id="L186" transform="rotate(-450.525 1430 1421)"><use href="#sp"/><text class="b l" x="2606" y="1421" transform="rotate(180 2606 1421)">MR 217</text></g>
<g id="L187" transform="rotate(-452.09 1430 1421)"><use href="#sp"/><text class="b l" x="2606" y="1421" transform="rotate(180 2606 1421)">MC 222</text></g>
<g id="L188" transform="rotate(-453.655 1430 1421)"><use href="#sp"/><text class="b l" x="2606" y="1421" transform="rotate(180 2606 1421)">MC 224</text></g>
<g id="L189" transform="rotate(-455.22 1430 1421)"><use href="#sp"/><text class="r l" x="2606" y="1421" transform="rotate(180 2606 1421)">MC 150</text></g>
<g id="L190" transform="rotate(-456.785 1430 1421)"><use href="#sp"/><text class="b l" x="2606" y="1421" transform="rotate(180 2606 1421)">MR 218</text></g>
<g id="L191" transform="rotate(-458.35 1430 1421)"><use href="#sp"/><text class="b l" x="2606" y="1421" transform="rotate(180 2606 1421)">MC 208</text></g>
<g id="L192" transform="rotate(-459.915 1430 1421)"><use href="#sp"/><text class="b l" x="2606" y="1421" transform="rotate(180 2606 1421)">MC 203</text></g>
<g id="L193" transform="rotate(-461.48 1430 1421)"><use href="#sp"/><text class="b l" x="2606" y="1421" transform="rotate(180 2606 1421)">MR 186</text></g>
<g id="L194" transform="rotate(-463.045 1430 1421)"><use href="#sp"/><text class="r l" x="2606" y="1421" transform="rotate(180 2606 1421)">MR 169</text></g>
<g id="L195" transform="rotate(-464.61 1430 1421)"><use href="#sp"/><text class="y l" x="2606" y="1421" transform="rotate(180 2606 1421)">MC 156</text></g>
<g id="L196" transform="rotate(-466.175 1430 1421)"><use href="#sp"/><text class="r l" x="2606" y="1421" transform="rotate(180 2606 1421)">MC 155</text></g>
<g id="L197" transform="rotate(-467.74 1430 1421)"><use href="#sp"/><text class="r l" x="2606" y="1421" transform="rotate(180 2606 1421)">MC 149</text></g>
<g id="L198" transform="rotate(-469.305 1430 1421)"><use href="#sp"/><text class="r l" x="2606" y="1421" transform="rotate(180 2606 1421)">MC 152</text></g>
<g id="L199" transform="rotate(-470.87 1430 1421)"><use href="#sp"/><text class="b l" x="2606" y="1421" transform="rotate(180 2606 1421)">MC 198</text></g>
<g id="L200" transform="rotate(-472.435 1430 1421)"><use href="#sp"/><text class="b l" x="2606" y="1421" transform="rotate(180 2606 1421)">MC 220</text></g>
<g id="L201" transform="rotate(-474 1430 1421)"><use href="#sp"/><text class="b l" x="2606" y="1421" transform="rotate(180 2606 1421)">MC 210</text></g>
<g id="L202" transform="rotate(-475.565 1430 1421)"><use href="#sp"/><text class="r l" x="2606" y="1421" transform="rotate(180 2606 1421)">MC 225</text></g>
<g id="L203" transform="rotate(-477.13 1430 1421)"><use href="#sp"/><text class="y l" x="2606" y="1421" transform="rotate(180 2606 1421)">MZ 128</text></g>
<g id="L204" transform="rotate(-478.695 1430 1421)"><use href="#sp"/><text class="y l" x="2606" y="1421" transform="rotate(180 2606 1421)">MZ 124</text></g>
<g id="L205" transform="rotate(-480.26 1430 1421)"><use href="#sp"/><text class="b l" x="2606" y="1421" transform="rotate(180 2606 1421)">MC 201</text></g>
<g id="L206" transform="rotate(-481.825 1430 1421)"><use href="#sp"/><text class="y l" x="2606" y="1421" transform="rotate(180 2606 1421)">MR 170</text></g>
<g id="L207" transform="rotate(-483.39 1430 1421)"><use href="#sp"/><text class="k l" x="2606" y="1421" transform="rotate(180 2606 1421)">MR 63</text></g>
<g id="L208" transform="rotate(-484.955 1430 1421)"><use href="#sp"/><text class="k l" x="2606" y="1421" transform="rotate(180 2606 1421)">BU 71</text></g>
<g id="L209" transform="rotate(-486.52 1430 1421)"><use href="#sp"/><text class="k l" x="2606" y="1421" transform="rotate(180 2606 1421)">RU 80</text></g>
<g id="L210" transform="rotate(-488.085 1430 1421)"><use href="#sp"/><text class="k l" x="2606" y="1421" transform="rotate(180 2606 1421)">NR 86</text></g>
<g id="L211" transform="rotate(-489.65 1430 1421)"><use href="#sp"/><text class="k l" x="2606" y="1421" transform="rotate(180 2606 1421)">NR 2</text></g>
<g id="L212" transform="rotate(-491.215 1430 1421)"><use href="#sp"/><text class="r l" x="2606" y="1421" transform="rotate(180 2606 1421)">MZ 127</text></g>
<g id="L213" transform="rotate(-492.78 1430 1421)"><use href="#sp"/><text class="y l" x="2606" y="1421" transform="rotate(180 2606 1421)">MR 179</text></g>
<g id="L214" transform="rotate(-494.345 1430 1421)"><use href="#sp"/><text class="b l" x="2606" y="1421" transform="rotate(180 2606 1421)">MR 213</text></g>
<g id="L215" transform="rotate(-495.91 1430 1421)"><use href="#sp"/><text class="k l" x="2606" y="1421" transform="rotate(180 2606 1421)">WA 12</text></g>
<g id="L216" transform="rotate(-497.475 1430 1421)"><use href="#sp"/><text class="k l" x="2606" y="1421" transform="rotate(180 2606 1421)">RU 36</text></g>
<g id="L217" transform="rotate(-499.04 1430 1421)"><use href="#sp"/><text class="k l" x="2606" y="1421" transform="rotate(180 2606 1421)">WA 21</text></g>
<g id="L218" transform="rotate(-500.605 1430 1421)"><use href="#sp"/><text class="r l" x="2606" y="1421" transform="rotate(180 2606 1421)">WA 120</text></g>
<g id="L219" transform="rotate(-502.17 1430 1421)"><use href="#sp"/><text class="r l" x="2606" y="1421" transform="rotate(180 2606 1421)">MC 164</text></g>
<g id="L220" transform="rotate(-503.735 1430 1421)"><use href="#sp"/><text class="k l" x="2606" y="1421" transform="rotate(180 2606 1421)">NR 7</text></g>
<g id="L221" transform="rotate(-505.3 1430 1421)"><use href="#sp"/><text class="k l" x="2606" y="1421" transform="rotate(180 2606 1421)">RU 9</text></g>
<g id="L222" transform="rotate(-506.865 1430 1421)"><use href="#sp"/><text class="k l" x="2606" y="1421" transform="rotate(180 2606 1421)">NR 1</text></g>
<g id="L223" transform="rotate(-508.43 1430 1421)"><use href="#sp"/><text class="r l" x="2606" y="1421" transform="rotate(180 2606 1421)">RU 49</text></g>
<g id="L224" transform="rotate(-509.995 1430 1421)"><use href="#sp"/><text class="r l" x="2606" y="1421" transform="rotate(180 2606 1421)">MZ 136</text></g>
</g>
</svg>
